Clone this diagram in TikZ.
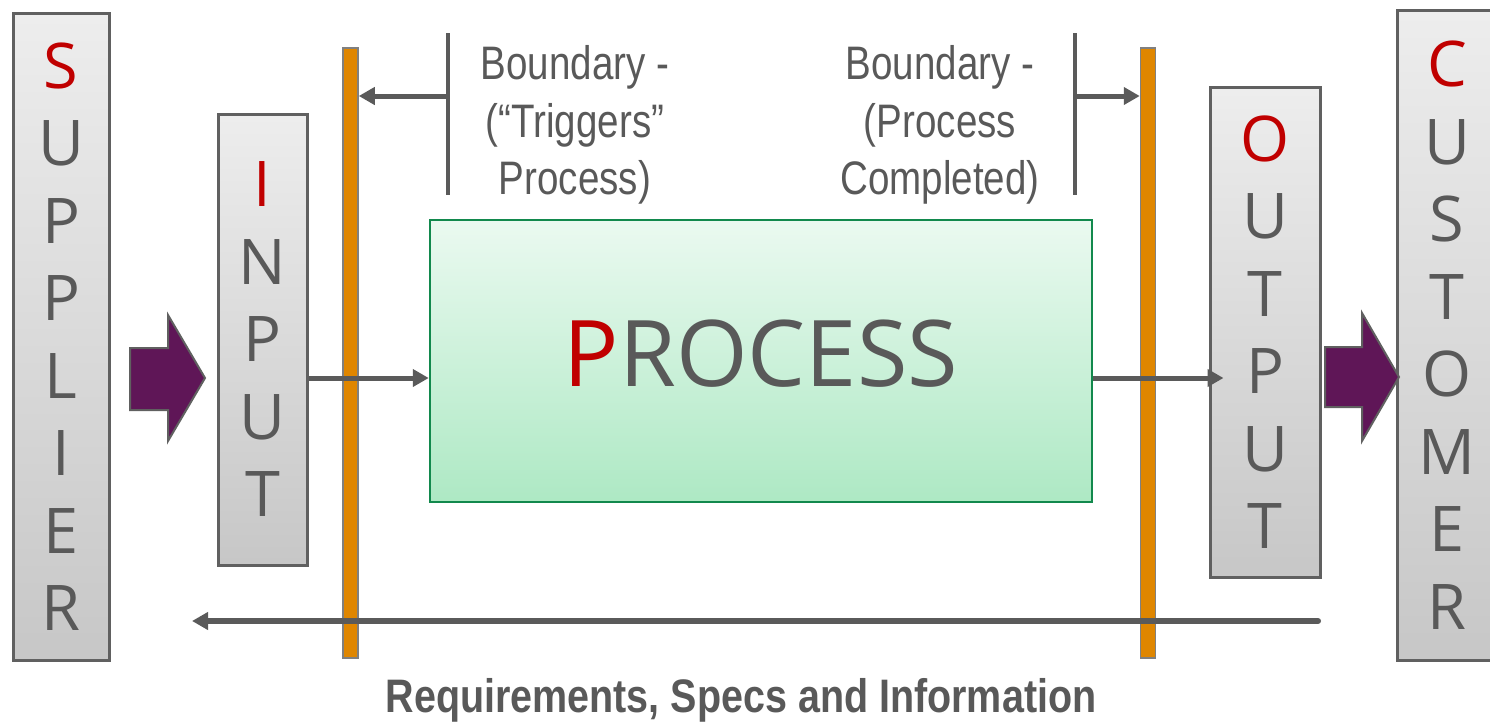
\documentclass[tikz,border=0pt]{standalone}
\usepackage{fontspec}
\setmainfont{Open Sans}
\newfontfamily\narrowfont[FakeStretch=0.82]{Liberation Sans}
\newfontfamily\narrowbold[FakeStretch=0.84]{Liberation Sans}
\usetikzlibrary{arrows.meta, positioning}
\definecolor{textgray}{HTML}{595959}
\definecolor{linegray}{HTML}{5A5A5A}
\definecolor{boxgray}{HTML}{606060}
\definecolor{accent}{HTML}{C00000}
\definecolor{plum}{HTML}{5F1657}
\definecolor{amber}{HTML}{DF8600}
\definecolor{mint}{HTML}{12894D}
\newcommand\firstletter[1]{\textcolor{accent}{#1}}

\begin{document}
\begin{tikzpicture}[x=1pt, y=-1pt,
    sipoc/.style={draw=boxgray, line width=3pt, top color=gray!14, bottom color=gray!44,
                  inner sep=0pt, align=center, text=textgray,
                  font=\fontsize{63}{77.5}\selectfont},
    procbox/.style={draw=mint, line width=2.5pt, top color=green!45!teal!8, bottom color=green!45!teal!32,
                    inner sep=0pt, text=textgray, text depth=16pt,
                    font=\fontsize{92}{100}\selectfont},
    bar/.style={draw=boxgray!80, line width=1.5pt, fill=amber, inner sep=0pt,
                minimum width=15pt, minimum height=610pt},
    bigarrow/.style={fill=plum, draw=boxgray, line width=2pt},
    flow/.style={draw=linegray, line width=5pt, -{Triangle[length=16pt, width=17pt]}},
    bracket/.style={draw=linegray, line width=4pt},
    boundtext/.style={align=center, text=textgray, font=\narrowfont\fontsize{47}{57.5}\selectfont},
    reqtext/.style={text=textgray, font=\narrowbold\bfseries\fontsize{47}{50}\selectfont}
  ]
  \useasboundingbox (0,0) rectangle (1490,726);

  % the five stages
  \node[sipoc, minimum width=96pt, minimum height=647pt] (supplier) at (61,336.5)
    {\firstletter{S}\\U\\P\\P\\L\\I\\E\\R};
  \node[sipoc, minimum width=89pt, minimum height=451pt] (input) at (262.5,339.5)
    {\firstletter{I}\\N\\P\\U\\T};
  \node[procbox, minimum width=662pt, minimum height=282pt] (proc) at (761,361)
    {\firstletter{P}ROCESS};
  \node[sipoc, minimum width=110pt, minimum height=490pt] (output) at (1265,332)
    {\firstletter{O}\\U\\T\\P\\U\\T};
  \node[sipoc, minimum width=100pt, minimum height=650pt] (customer) at (1447,335)
    {\firstletter{C}\\U\\S\\T\\O\\M\\E\\R};

  % boundaries
  \node[bar] (barL) at (350.5,353) {};
  \node[bar] (barR) at (1148,353) {};

  % big arrows
  \draw[bigarrow] (130,348) -- (168,348) -- (168,315) -- (205,378)
    -- (168,441) -- (168,410) -- (130,410) -- cycle;
  \draw[bigarrow] (1325,347) -- (1362,347) -- (1362,313) -- (1399,377)
    -- (1362,441) -- (1362,407) -- (1325,407) -- cycle;

  % flow through the process
  \coordinate (lvl) at (0,378);
  \draw[flow] (input.east |- lvl) -- (proc.west |- lvl);
  \draw[flow, shorten >=-15pt] (proc.east |- lvl) -- (output.west |- lvl);

  % boundary labels
  \coordinate (trigTop) at (448,33);
  \coordinate (trigBot) at (448,195);
  \coordinate (trigMid) at (448,96);
  \draw[bracket] (trigTop) -- (trigBot);
  \draw[flow] (trigMid) -- (barL.east |- trigMid);
  \node[boundtext] (trig) at (575,125) {Boundary -\\(“Triggers”\\Process)};

  \coordinate (doneTop) at (1075,33);
  \coordinate (doneBot) at (1075,195);
  \coordinate (doneMid) at (1075,96);
  \draw[bracket] (doneTop) -- (doneBot);
  \draw[flow] (doneMid) -- (barR.west |- doneMid);
  \node[boundtext] (done) at (940,125) {Boundary -\\(Process\\Completed)};

  % feedback
  \coordinate (reqR) at (1318,621);
  \coordinate (reqL) at (192,621);
  \draw[flow, line width=6pt, line cap=round] (reqR) -- (reqL);
  \node[reqtext] (req) at (741,700) {Requirements, Specs and Information};
\end{tikzpicture}
\end{document}
